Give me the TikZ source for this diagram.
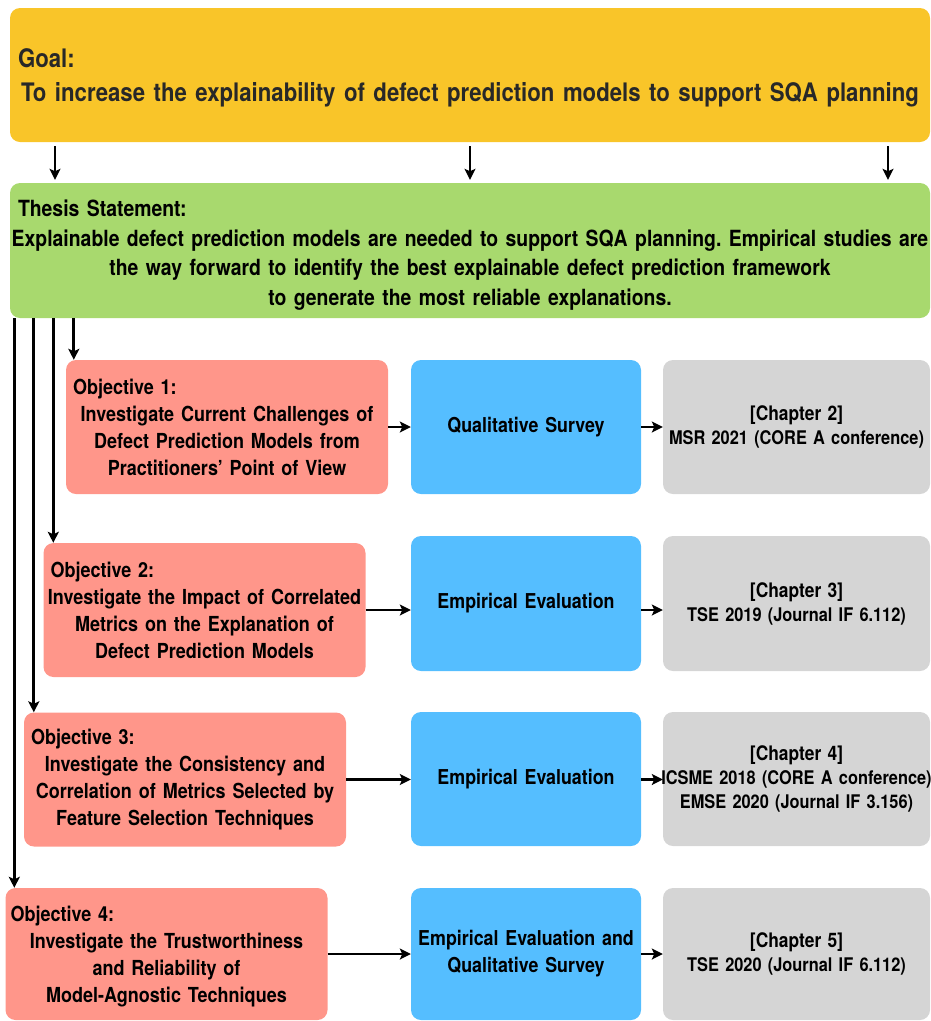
\documentclass[tikz,border=0pt]{standalone}
\usepackage{fontspec}
\setmainfont{TeX Gyre Heros}[FakeStretch=0.87]
\usetikzlibrary{arrows.meta}
\frenchspacing

\definecolor{goalfill}{RGB}{249,197,41}
\definecolor{thesisfill}{RGB}{168,217,110}
\definecolor{objfill}{RGB}{255,150,138}
\definecolor{methodfill}{RGB}{85,190,255}
\definecolor{pubfill}{RGB}{213,213,213}
\definecolor{goaltext}{RGB}{40,40,40}

\tikzset{
  panel/.style={rounded corners=10pt, inner sep=0pt, align=center},
  goalbox/.style={panel, fill=goalfill, text=goaltext,
    minimum width=920pt, minimum height=134pt, text width=920pt,
    font=\bfseries\fontsize{25.5}{34}\selectfont},
  thesisbox/.style={panel, fill=thesisfill,
    minimum width=920pt, minimum height=135pt, text width=920pt,
    font=\bfseries\fontsize{22.3}{29.5}\selectfont},
  objbox/.style={panel, fill=objfill,
    minimum width=322pt, minimum height=134pt, text width=322pt,
    font=\bfseries\fontsize{20.7}{27}\selectfont},
  methodbox/.style={panel, fill=methodfill,
    minimum width=230pt, minimum height=134pt, text width=230pt,
    font=\bfseries\fontsize{20.5}{27}\selectfont},
  pubbox/.style={panel, fill=pubfill,
    minimum width=267pt, minimum height=134pt, text width=267pt,
    font=\bfseries\fontsize{18.8}{24}\selectfont},
  arr/.style={line width=2.8pt, -{Stealth[length=11pt,width=11pt,inset=2.5pt]}}
}
% a left-aligned heading line with a small inset, a centred body line,
% and the slightly larger chapter line of the publication boxes
\newcommand{\heading}[2][7pt]{\makebox[\linewidth][l]{\hspace*{#1}#2}}
\newcommand{\fitline}[1]{\makebox[\linewidth][c]{#1}}
\newcommand{\chapline}[1]{\makebox[\linewidth][c]{\fontsize{20}{24}\selectfont #1}}

\begin{document}
\begin{tikzpicture}[x=1pt, y=-1pt]
  \useasboundingbox (0,0) rectangle (931,1021);

  % goal and thesis statement (the struts drop the text block a little)
  \node[goalbox] (goal) at (470,75)
    {\heading[8pt]{\rule{0pt}{25pt}Goal:}\\
     \fitline{To increase the explainability of defect prediction models to support SQA planning}};
  \node[thesisbox] (thesis) at (470,250.5)
    {\heading[8pt]{\rule{0pt}{26pt}Thesis Statement:}\\
     \fitline{Explainable defect prediction models are needed to support SQA planning. Empirical studies are}\\
     \fitline{the way forward to identify the best explainable defect prediction framework}\\
     \fitline{to generate the most reliable explanations.}};

  % objectives
  \node[objbox] (obj1) at (227,427)
    {\heading{Objective 1:}\\
     \fitline{Investigate Current Challenges of}\\
     \fitline{Defect Prediction Models from}\\
     \fitline{Practitioners’ Point of View}};
  \node[objbox] (obj2) at (204.5,610)
    {\heading{Objective 2:}\\
     \fitline{Investigate the Impact of Correlated}\\
     \fitline{Metrics on the Explanation of}\\
     \fitline{Defect Prediction Models}};
  \node[objbox] (obj3) at (185,779.5)
    {\heading{Objective 3:}\\
     \fitline{Investigate the Consistency and}\\
     \fitline{Correlation of Metrics Selected by}\\
     \fitline{Feature Selection Techniques}};
  \node[objbox, minimum height=132pt] (obj4) at (166.5,954)
    {\heading[5pt]{\rule{0pt}{20pt}Objective 4:}\\
     \fitline{Investigate the Trustworthiness}\\
     \fitline{and Reliability of}\\
     \fitline{Model-Agnostic Techniques}};

  % research methods
  \node[methodbox] (m1) at (526,427) {\fitline{Qualitative Survey}};
  \node[methodbox, minimum height=135pt] (m2) at (526,603.5) {\fitline{Empirical Evaluation}};
  \node[methodbox] (m3) at (526,779) {\fitline{Empirical Evaluation}};
  \node[methodbox, minimum height=132pt] (m4) at (526,954)
    {\fitline{Empirical Evaluation and}\\\fitline{Qualitative Survey}};

  % publications
  \node[pubbox] (p1) at (796.5,427)
    {\chapline{[Chapter 2]}\\\fitline{MSR 2021 (CORE A conference)}};
  \node[pubbox, minimum height=135pt] (p2) at (796.5,603.5)
    {\chapline{[Chapter 3]}\\\fitline{TSE 2019 (Journal IF 6.112)}};
  \node[pubbox] (p3) at (796.5,779)
    {\chapline{[Chapter 4]}\\\fitline{ICSME 2018 (CORE A conference)}\\\fitline{EMSE 2020 (Journal IF 3.156)}};
  \node[pubbox, minimum height=132pt] (p4) at (796.5,954)
    {\chapline{[Chapter 5]}\\\fitline{TSE 2020 (Journal IF 6.112)}};

  % goal feeds the thesis statement
  \coordinate (ga) at (55,0);
  \coordinate (gb) at (470,0);
  \coordinate (gc) at (888,0);
  \foreach \c in {ga,gb,gc}
    \draw[arr, shorten <=4pt, shorten >=3pt] (goal.south -| \c) -- (thesis.north -| \c);

  % thesis statement branches to each objective
  \coordinate (t1) at ([xshift=8pt]obj1.north west);
  \coordinate (t2) at ([xshift=10pt]obj2.north west);
  \coordinate (t3) at ([xshift=10pt]obj3.north west);
  \coordinate (t4) at ([xshift=9pt]obj4.north west);
  \foreach \c in {t1,t2,t3,t4}
    \draw[arr] (thesis.south -| \c) -- (\c);

  % objective -> method -> publication
  \foreach \i in {1,2,3,4}{
    \draw[arr] (obj\i.east) -- (obj\i.east -| m\i.west);
    \draw[arr] (m\i.east |- obj\i.east) -- (p\i.west |- obj\i.east);
  }
\end{tikzpicture}
\end{document}
